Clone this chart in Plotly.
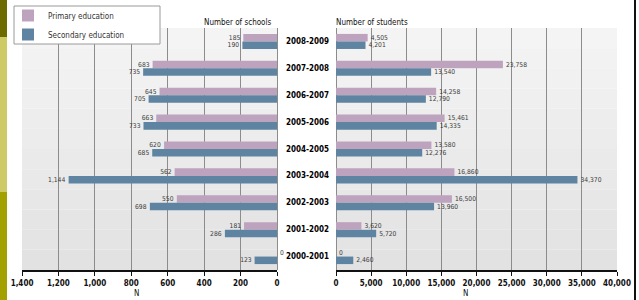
import plotly.graph_objects as go

years = ["2008-2009", "2007-2008", "2006-2007", "2005-2006", "2004-2005",
         "2003-2004", "2002-2003", "2001-2002", "2000-2001"]
schools_primary = [185, 683, 645, 663, 620, 562, 550, 181, 0]
schools_secondary = [190, 735, 705, 733, 685, 1144, 698, 286, 123]
students_primary = [4505, 23758, 14258, 15461, 13580, 16860, 16500, 3620, 0]
students_secondary = [4201, 13540, 12790, 14335, 12276, 34370, 13960, 5720, 2460]
schools_ticks = [0, 200, 400, 600, 800, 1000, 1200, 1400]
students_ticks = [0, 5000, 10000, 15000, 20000, 25000, 30000, 35000, 40000]

PINK = "#bea3bf"
BLUE = "#5f84a2"
NARROW = "Liberation Sans Narrow, DejaVu Sans Condensed, Arial Narrow, Liberation Sans, sans-serif"

W, H = 639, 300
def px(x):
    return x / W
def py(y):
    return 1 - y / H

fig = go.Figure()

common = dict(orientation="h", textposition="outside", cliponaxis=False,
              texttemplate="%{x:,}",
              textfont=dict(family=NARROW, size=8, color="#3a3a3a"))

fig.add_trace(go.Bar(y=years, x=schools_primary, name="Primary education",
                     marker=dict(color=PINK, line=dict(width=0)),
                     xaxis="x", yaxis="y", legendgroup="p", **common))
fig.add_trace(go.Bar(y=years, x=schools_secondary, name="Secondary education",
                     marker=dict(color=BLUE, line=dict(width=0)),
                     xaxis="x", yaxis="y", legendgroup="s", **common))
fig.add_trace(go.Bar(y=years, x=students_primary, name="Primary education",
                     marker=dict(color=PINK, line=dict(width=0)), showlegend=False,
                     xaxis="x2", yaxis="y2", legendgroup="p", **common))
fig.add_trace(go.Bar(y=years, x=students_secondary, name="Secondary education",
                     marker=dict(color=BLUE, line=dict(width=0)), showlegend=False,
                     xaxis="x2", yaxis="y2", legendgroup="s", **common))

ydom = [py(270), py(28)]
axis_font = dict(family=NARROW, size=8, color="#111111", weight="bold")
xcommon = dict(showgrid=True, gridcolor="#8c8c8c", gridwidth=1,
               zeroline=True, zerolinecolor="#8c8c8c", zerolinewidth=1,
               showline=True, linecolor="#111111", linewidth=2,
               ticks="outside", ticklen=4, tickcolor="#111111", tickwidth=1,
               tickformat=",d", tickfont=axis_font, fixedrange=True,
               automargin=False)

fig.update_layout(
    width=W, height=H,
    margin=dict(l=0, r=0, t=0, b=0, autoexpand=False),
    paper_bgcolor="white",
    plot_bgcolor="rgba(0,0,0,0)",
    barmode="group", bargap=0.44, bargroupgap=0,
    showlegend=True,
    legend=dict(x=px(8), y=py(1), xanchor="left", yanchor="top",
                bgcolor="rgba(0,0,0,0)", borderwidth=0,
                font=dict(family=NARROW, size=8, color="#333333"),
                tracegroupgap=0, itemwidth=30),
    xaxis=dict(domain=[px(22), px(277)], range=[1400, 0],
               tickvals=schools_ticks, anchor="y", **xcommon),
    yaxis=dict(domain=ydom, type="category", categoryorder="array",
               categoryarray=years, autorange="reversed",
               showticklabels=False, showgrid=False, zeroline=False,
               anchor="x", fixedrange=True, automargin=False),
    xaxis2=dict(domain=[px(336), px(617)], range=[0, 40000],
                tickvals=students_ticks, anchor="y2", **xcommon),
    yaxis2=dict(domain=ydom, type="category", categoryorder="array",
                categoryarray=years, autorange="reversed",
                showticklabels=False, showgrid=False, zeroline=False,
                anchor="x2", fixedrange=True, automargin=False),
)

shapes = []
# plot-area gradient backgrounds
n = 12
for xa, ya in (("x", "y"), ("x2", "y2")):
    for i in range(n):
        t = i / (n - 1)
        g = int(round(0xf4 - t * (0xf4 - 0xe2)))
        col = f"rgb({g},{g},{g})"
        shapes.append(dict(type="rect", xref=f"{xa} domain", yref=f"{ya} domain",
                           x0=0, x1=1, y0=1 - (i + 1) / n, y1=1 - i / n,
                           fillcolor=col, line=dict(width=0), layer="below"))
# left decorative strip
for y0, y1, col in ((0, 37, "#6c6b00"), (37, 192, "#cccb66"), (192, 300, "#a2a100")):
    shapes.append(dict(type="rect", xref="paper", yref="paper",
                       x0=0, x1=px(7), y0=py(y1), y1=py(y0),
                       fillcolor=col, line=dict(width=0), layer="above"))
# right black border
shapes.append(dict(type="rect", xref="paper", yref="paper",
                   x0=px(634), x1=px(636), y0=0, y1=1,
                   fillcolor="#111111", line=dict(width=0), layer="above"))
# legend box
shapes.append(dict(type="rect", xref="paper", yref="paper",
                   x0=px(14), x1=px(160), y0=py(44), y1=py(6),
                   fillcolor="white", line=dict(color="#9a9a9a", width=1), layer="above"))
fig.update_layout(shapes=shapes)

ann = []
for yr in years:
    ann.append(dict(x=px(307), y=yr, xref="paper", yref="y", text=yr,
                    showarrow=False, xanchor="center", yanchor="middle",
                    font=dict(family=NARROW, size=8, color="#000000", weight="bold")))
ann.append(dict(x=px(237), y=py(16), xref="paper", yref="paper",
                text="Number of schools", showarrow=False,
                font=dict(family=NARROW, size=8, color="#111111")))
ann.append(dict(x=px(372), y=py(16), xref="paper", yref="paper",
                text="Number of students", showarrow=False,
                font=dict(family=NARROW, size=8, color="#111111")))
ann.append(dict(x=px(132), y=0, xref="paper", yref="paper",
                text="N", showarrow=False, yanchor="bottom",
                font=dict(family=NARROW, size=8, color="#111111")))
ann.append(dict(x=px(470), y=0, xref="paper", yref="paper",
                text="N", showarrow=False, yanchor="bottom",
                font=dict(family=NARROW, size=8, color="#111111")))
fig.update_layout(annotations=ann)

fig.write_html("out.html",
               config={"displayModeBar": False, "staticPlot": True},
               post_script="document.body.style.margin='0';document.body.style.padding='0';")
